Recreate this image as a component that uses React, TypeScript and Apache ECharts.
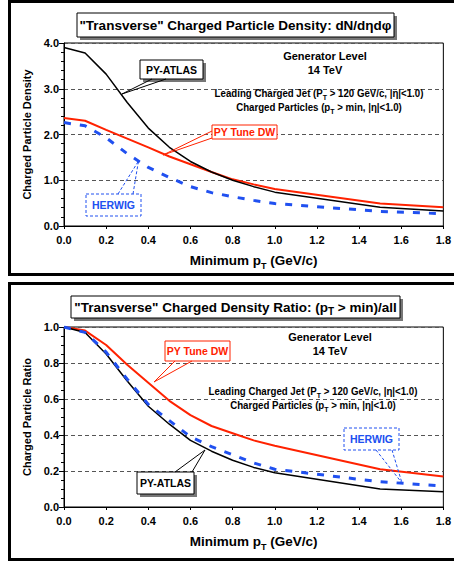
import React, { useEffect, useRef } from "react";
import * as echarts from "echarts";

const pT = [0, 0.1, 0.2, 0.3, 0.4, 0.5, 0.6, 0.7, 0.8, 0.9, 1.0, 1.5, 1.8];

const atlasDensity = [3.9, 3.78, 3.32, 2.7, 2.14, 1.72, 1.41, 1.18, 1.0, 0.86, 0.74, 0.41, 0.33];
const dwDensity = [2.36, 2.3, 2.1, 1.91, 1.72, 1.52, 1.35, 1.18, 1.02, 0.91, 0.81, 0.49, 0.41];
const herwigDensity = [2.26, 2.19, 1.93, 1.58, 1.28, 1.06, 0.86, 0.73, 0.64, 0.56, 0.49, 0.32, 0.27];

const atlasRatio = [1.0, 0.97, 0.85, 0.7, 0.56, 0.46, 0.37, 0.31, 0.26, 0.22, 0.19, 0.1, 0.085];
const dwRatio = [1.0, 0.98, 0.9, 0.79, 0.69, 0.59, 0.51, 0.45, 0.41, 0.37, 0.34, 0.21, 0.17];
const herwigRatio = [1.0, 0.97, 0.86, 0.71, 0.57, 0.48, 0.39, 0.335, 0.29, 0.245, 0.21, 0.14, 0.117];

const xTicks = [0, 0.2, 0.4, 0.6, 0.8, 1.0, 1.2, 1.4, 1.6, 1.8];

const FONT = "'Liberation Sans', Arial, sans-serif";
const RED = "#ff2200";
const BLUE = "#2050f0";

const pairs = (ys: number[]) => pT.map((x, i) => [x, ys[i]]);

const subRich = {
  s: { fontSize: 8, lineHeight: 8, verticalAlign: "bottom", fontWeight: "bold", fontFamily: FONT },
};

function text(x: number, y: number, t: string, size: number, color = "#000", scaleX = 1, extra: any = {}) {
  return {
    type: "text",
    x,
    y,
    scaleX,
    z: 10,
    style: {
      text: t,
      x: 0,
      y: 0,
      fill: color,
      fontSize: size,
      fontWeight: "bold",
      fontFamily: FONT,
      align: "center",
      verticalAlign: "middle",
      lineHeight: size + 5,
      rich: { s: { ...subRich.s, fontSize: Math.round(size * 0.72) } },
      ...extra,
    },
  };
}

function box(x: number, y: number, w: number, h: number, stroke: string, dashed = false, shadow = false) {
  const els: any[] = [];
  if (shadow) {
    els.push({ type: "rect", z: 8, shape: { x: x + 3, y: y + 3, width: w, height: h }, style: { fill: "#777" } });
  }
  els.push({
    type: "rect",
    z: 9,
    shape: { x, y, width: w, height: h },
    style: { fill: "#fff", stroke, lineWidth: 1, lineDash: dashed ? [3, 2] : null },
  });
  return els;
}

function wedge(a: number[], b: number[], tip: number[], stroke: string, dashed = false) {
  return [
    { type: "line", z: 9, shape: { x1: a[0], y1: a[1], x2: tip[0], y2: tip[1] }, style: { stroke, lineWidth: 1, lineDash: dashed ? [3, 2] : null } },
    { type: "line", z: 9, shape: { x1: b[0], y1: b[1], x2: tip[0], y2: tip[1] }, style: { stroke, lineWidth: 1, lineDash: dashed ? [3, 2] : null } },
  ];
}

export default function App() {
  const ref = useRef<HTMLDivElement>(null);
  useEffect(() => {
    if (!ref.current) return;
    const chart = echarts.init(ref.current, null, { renderer: "svg" });

    const xAxisBase = (gridIndex: number) => ({
      type: "value",
      gridIndex,
      min: 0,
      max: 1.8,
      interval: 0.2,
      name: "Minimum p{s|T} (GeV/c)",
      nameLocation: "middle",
      nameGap: 24,
      nameTextStyle: {
        fontSize: 13.5,
        fontWeight: "bold",
        fontFamily: FONT,
        color: "#000",
        lineHeight: 20,
        rich: { s: { fontSize: 9, lineHeight: 9, verticalAlign: "bottom", fontWeight: "bold", fontFamily: FONT, color: "#000" } },
      },
      axisLine: { show: true, lineStyle: { color: "#000", width: 1 } },
      axisTick: { show: true, length: 3, lineStyle: { color: "#000" } },
      axisLabel: {
        margin: 8,
        fontSize: 11,
        fontWeight: "bold",
        fontFamily: FONT,
        color: "#000",
        formatter: (v: number) => v.toFixed(1),
        customValues: xTicks,
      },
      splitLine: { show: false },
    });

    const yAxisBase = (gridIndex: number, max: number, interval: number, minorSplit: number, name: string) => ({
      type: "value",
      gridIndex,
      min: 0,
      max,
      interval,
      name,
      nameLocation: "middle",
      nameGap: 29,
      nameTextStyle: { fontSize: 11, fontWeight: "bold", fontFamily: FONT, color: "#000" },
      axisLine: { show: true, lineStyle: { color: "#000", width: 1 } },
      axisTick: { show: true, length: 5, lineStyle: { color: "#000" } },
      minorTick: { show: true, splitNumber: minorSplit, length: 3, lineStyle: { color: "#000" } },
      axisLabel: {
        margin: 5,
        fontSize: 11,
        fontWeight: "bold",
        fontFamily: FONT,
        color: "#000",
        formatter: (v: number) => v.toFixed(1),
      },
      splitLine: { show: true, lineStyle: { color: "#555", type: [4, 3], width: 1 } },
    });

    const lineSeries = (name: string, data: number[], idx: number, color: string, width: number, dash?: number[]) => ({
      type: "line",
      name,
      xAxisIndex: idx,
      yAxisIndex: idx,
      data: pairs(data),
      showSymbol: false,
      symbol: "none",
      smooth: false,
      lineStyle: { color, width, type: dash || "solid", cap: "butt" },
      z: 3,
    });

    const graphics: any[] = [
      { type: "rect", z: 1, shape: { x: 9.5, y: 1.5, width: 470, height: 273 }, style: { fill: null, stroke: "#000", lineWidth: 3 } },
      { type: "rect", z: 1, shape: { x: 9.5, y: 283.5, width: 470, height: 276 }, style: { fill: null, stroke: "#000", lineWidth: 3 } },

      ...box(77, 13, 317, 24, "#000", false, true),
      text(235.5, 25, "\"Transverse\" Charged Particle Density: dN/dηdφ", 13.5),
      text(325, 56, "Generator Level", 11),
      text(325, 70, "14 TeV", 11),
      text(319, 93, "Leading Charged Jet (P{s|T} > 120 GeV/c, |η|<1.0)", 11, "#000", 0.88),
      text(319, 107, "Charged Particles (p{s|T} > min, |η|<1.0)", 11, "#000", 0.88),

      ...box(140, 60, 63, 19, "#000", false, true),
      text(171.5, 69.5, "PY-ATLAS", 10.5),
      ...wedge([152, 79], [166, 79], [122, 94], "#000"),

      ...box(212, 125, 65, 14, RED),
      text(244.5, 132, "PY Tune DW", 10.5, RED),
      ...wedge([212, 131], [212, 138], [163, 155], RED),

      ...box(86, 194, 55, 22, BLUE, true),
      text(113.5, 205, "HERWIG", 10.5, BLUE),
      ...wedge([118, 194], [133, 194], [138.5, 161], BLUE, true),

      ...box(71, 296, 329, 22, "#000", false, true),
      text(235.5, 307, "\"Transverse\" Charged Density Ratio: (p{s|T} > min)/all", 13.5),
      text(330, 337, "Generator Level", 11),
      text(330, 351, "14 TeV", 11),
      text(313, 391, "Leading Charged Jet (P{s|T} > 120 GeV/c, |η|<1.0)", 11, "#000", 0.88),
      text(313, 405, "Charged Particles (p{s|T} > min, |η|<1.0)", 11, "#000", 0.88),

      ...box(165, 341, 65, 20, RED),
      text(197.5, 350.5, "PY Tune DW", 10.5, RED),
      ...wedge([175, 361], [192, 361], [154, 382], RED),

      ...box(344, 428, 55, 22, BLUE, true),
      text(371.5, 439, "HERWIG", 10.5, BLUE),
      ...wedge([376, 450], [392, 450], [402, 483], BLUE, true),

      ...box(137, 472, 57, 22, "#000", false, true),
      text(165.5, 483, "PY-ATLAS", 10.5),
      ...wedge([175, 472], [192, 472], [205, 450], "#000"),
    ];

    chart.setOption({
      animation: false,
      backgroundColor: "#fff",
      grid: [
        { left: 64, top: 43, width: 380, height: 183, show: true, borderColor: "#000", borderWidth: 1, backgroundColor: "transparent" },
        { left: 64, top: 327, width: 380, height: 180, show: true, borderColor: "#000", borderWidth: 1, backgroundColor: "transparent" },
      ],
      xAxis: [xAxisBase(0), xAxisBase(1)],
      yAxis: [
        yAxisBase(0, 4, 1, 5, "Charged Particle Density"),
        yAxisBase(1, 1, 0.2, 4, "Charged Particle Ratio"),
      ],
      series: [
        lineSeries("HERWIG", herwigDensity, 0, BLUE, 3, [7, 9]),
        lineSeries("PY Tune DW", dwDensity, 0, RED, 2),
        lineSeries("PY-ATLAS", atlasDensity, 0, "#000", 1.5),
        lineSeries("PY Tune DW", dwRatio, 1, RED, 2),
        lineSeries("PY-ATLAS", atlasRatio, 1, "#000", 1.5),
        lineSeries("HERWIG", herwigRatio, 1, BLUE, 3, [7, 9]),
      ],
      graphic: graphics,
    });
    return () => chart.dispose();
  }, []);
  return <div ref={ref} style={{ position: "absolute", left: 0, top: 0, width: 454, height: 561 }} />;
}
